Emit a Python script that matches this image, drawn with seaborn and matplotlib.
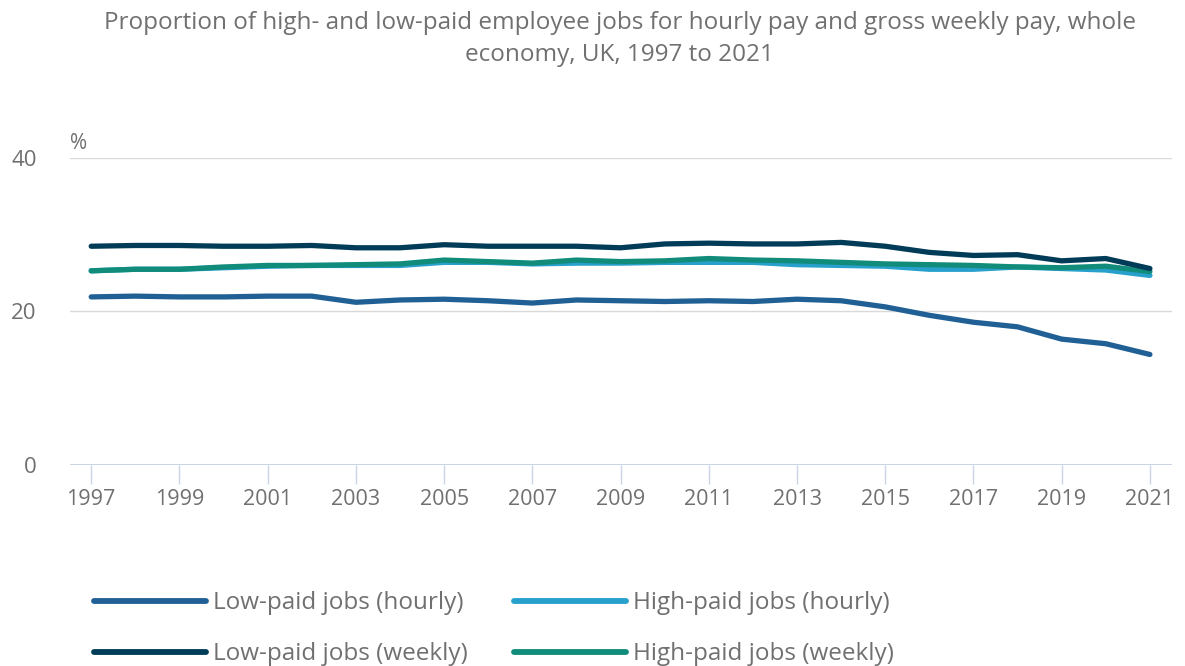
import matplotlib
matplotlib.use("Agg")
import matplotlib.pyplot as plt
import seaborn as sns
import pandas as pd
from matplotlib.lines import Line2D

years = list(range(1997, 2022))

low_hourly = [21.9, 22.0, 21.9, 21.9, 22.0, 22.0, 21.2, 21.5, 21.6, 21.4, 21.1, 21.5, 21.4,
              21.3, 21.4, 21.3, 21.6, 21.4, 20.6, 19.5, 18.6, 18.0, 16.4, 15.8, 14.4]
high_hourly = [25.3, 25.5, 25.5, 25.7, 25.9, 26.0, 26.0, 26.0, 26.4, 26.4, 26.2, 26.3, 26.3,
               26.4, 26.4, 26.4, 26.1, 26.0, 25.9, 25.5, 25.5, 25.8, 25.6, 25.4, 24.7]
low_weekly = [28.5, 28.6, 28.6, 28.5, 28.5, 28.6, 28.3, 28.3, 28.7, 28.5, 28.5, 28.5, 28.3,
              28.8, 28.9, 28.8, 28.8, 29.0, 28.5, 27.7, 27.3, 27.4, 26.6, 26.9, 25.6]
high_weekly = [25.3, 25.5, 25.5, 25.8, 26.0, 26.0, 26.1, 26.2, 26.7, 26.5, 26.3, 26.7, 26.5,
               26.6, 26.9, 26.7, 26.6, 26.4, 26.2, 26.1, 26.0, 25.8, 25.7, 25.9, 25.2]

series_names = ["Low-paid jobs (hourly)", "High-paid jobs (hourly)",
                "Low-paid jobs (weekly)", "High-paid jobs (weekly)"]
series_values = [low_hourly, high_hourly, low_weekly, high_weekly]
colors = ["#206095", "#27a0cc", "#003c57", "#118c7b"]

x_ticks = list(range(1997, 2022, 2))
y_ticks = [0, 20, 40]

title = ("Proportion of high- and low-paid employee jobs for hourly pay and gross weekly pay, whole\n"
         "economy, UK, 1997 to 2021")

df = pd.DataFrame({
    "year": years * len(series_names),
    "value": [v for vals in series_values for v in vals],
    "series": [n for n in series_names for _ in years],
})

sns.set_theme(style="white")
plt.rcParams["font.family"] = ["Open Sans", "DejaVu Sans"]

text_color = "#707070"
fig = plt.figure(figsize=(11.85, 6.66), dpi=100)
ax = fig.add_axes([0.0591, 0.3018, 0.9299, 0.461])

# draw order: high-paid first so low-paid weekly sits on top
draw_order = [1, 3, 0, 2]
for i in draw_order:
    sub = df[df["series"] == series_names[i]]
    sns.lineplot(data=sub, x="year", y="value", color=colors[i], linewidth=3.8,
                 ax=ax, legend=False, solid_capstyle="round", solid_joinstyle="round")

ax.set_xlim(1996.52, 2021.5)
ax.set_ylim(0, 40)
ax.set_yticks(y_ticks)
ax.set_xticks(x_ticks)
ax.set_xlabel("")
ax.set_ylabel("")
for y in y_ticks[1:]:
    ax.axhline(y, color="#d9d9d9", linewidth=1, zorder=0)
ax.axhline(0, color="#c9d4e4", linewidth=1.4, zorder=0)
for s in ax.spines.values():
    s.set_visible(False)
ax.tick_params(axis="x", length=14, width=1, color="#c9d4e4",
               labelsize=15.5, pad=3, bottom=True)
ax.tick_params(axis="x", labelcolor=text_color)
ax.tick_params(axis="y", length=0, labelcolor=text_color, labelsize=16, pad=24)
ax.text(0.0, 1.012, "%", transform=ax.transAxes, ha="left", va="bottom",
        fontsize=15, color=text_color)

fig.text(0.523, 0.983, title, ha="center", va="top", fontsize=17.5, color=text_color,
         linespacing=1.42)

handles = [Line2D([], [], color=c, linewidth=4.2) for c in colors]
order = [0, 2, 1, 3]
leg = fig.legend([handles[i] for i in order], [series_names[i] for i in order],
                 loc="lower left", bbox_to_anchor=(0.061, -0.033), ncol=2, frameon=False,
                 fontsize=17.5, handlelength=4.6, handletextpad=0.3, columnspacing=1.9,
                 labelspacing=1.1)
for t in leg.get_texts():
    t.set_color(text_color)

fig.savefig("out.png", dpi=100)
